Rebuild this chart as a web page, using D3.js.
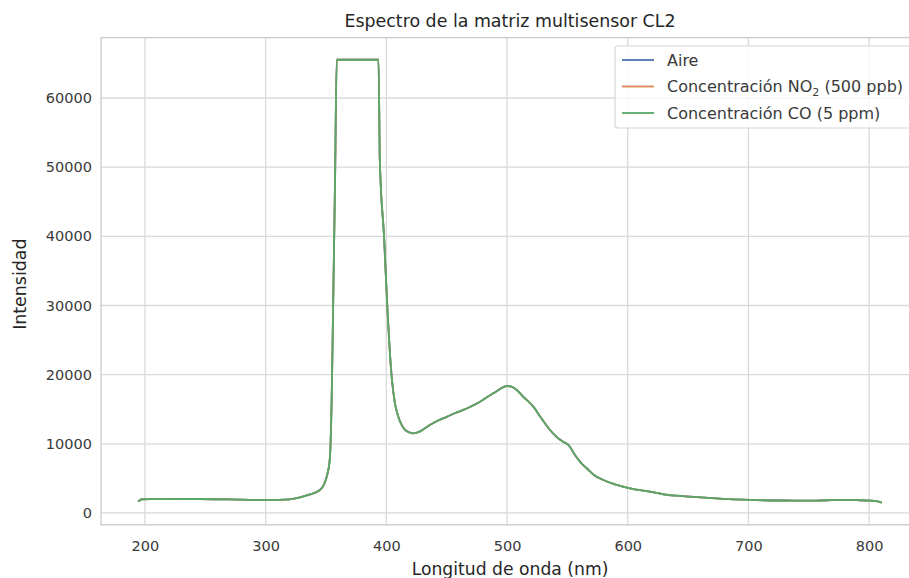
<!DOCTYPE html>
<html>
<head>
<meta charset="utf-8">
<script src="https://cdn.jsdelivr.net/npm/d3@7"></script>
<style>
  html, body { margin: 0; padding: 0; background: #fff; }
  svg { display: block; font-family: "DejaVu Sans", sans-serif; }
</style>
</head>
<body>
<svg id="chart" width="909" height="578"></svg>
<script>
// Wavelength samples (nm)
const wavelength = [194.4, 197.3, 205, 220, 245.6, 270, 300.8, 320, 328.4, 336, 345, 348, 350.6, 352, 353.3, 354.7, 356, 357.5, 358.9,
  370, 385, 393.5, 394.6, 398.1, 400.8, 404.4, 407, 409.9, 412.5, 415.5, 419, 422.3, 428, 435, 442, 450, 457, 463.8, 470, 477.6,
  483, 488.6, 494, 498.3, 500.5, 504, 508, 514, 521.8, 528, 535.6, 541, 546, 550.8, 557, 562, 566, 572, 579.8, 590, 601.9,
  610, 618.5, 629.5, 640, 651.7, 670, 701.4, 730, 756.6, 773.2, 790, 800.8, 806, 810.5];

// Intensity for each atmosphere
const aire = [1630, 1980, 2010, 2010, 2020, 1960, 1880, 1960, 2270, 2650, 3325, 4000, 5250, 6300, 8140, 16340, 30790, 48000, 65535,
  65535, 65535, 65535, 51000, 39950, 29830, 19700, 16000, 13920, 12800, 12000, 11650, 11520, 11800, 12600, 13300, 13900, 14450, 14900, 15400, 16090,
  16700, 17300, 17900, 18300, 18360, 18250, 17780, 16700, 15370, 13800, 12000, 11000, 10350, 9830, 8200, 7100, 6460, 5500, 4770, 4100, 3570,
  3300, 3080, 2700, 2500, 2360, 2150, 1880, 1800, 1780, 1900, 1850, 1780, 1700, 1490];

const no2 = [1630, 1980, 2010, 2010, 2020, 1960, 1880, 1960, 2270, 2650, 3325, 4000, 5250, 6300, 8140, 16340, 30790, 48000, 65535,
  65535, 65535, 65535, 51000, 39950, 29830, 19700, 16000, 13920, 12800, 12000, 11650, 11520, 11800, 12600, 13300, 13900, 14450, 14900, 15400, 16090,
  16700, 17300, 17900, 18300, 18360, 18250, 17780, 16700, 15370, 13800, 12000, 11000, 10350, 9830, 8200, 7100, 6460, 5500, 4770, 4100, 3570,
  3300, 3080, 2700, 2500, 2360, 2150, 1880, 1800, 1780, 1900, 1850, 1780, 1700, 1490];

const co = [1630, 1980, 2010, 2010, 2020, 1960, 1880, 1960, 2270, 2650, 3325, 4000, 5250, 6300, 8140, 16340, 30790, 48000, 65535,
  65535, 65535, 65535, 51000, 39950, 29830, 19700, 16000, 13920, 12800, 12000, 11650, 11520, 11800, 12600, 13300, 13900, 14450, 14900, 15400, 16090,
  16700, 17300, 17900, 18300, 18360, 18250, 17780, 16700, 15370, 13800, 12000, 11000, 10350, 9830, 8200, 7100, 6460, 5500, 4770, 4100, 3570,
  3300, 3080, 2700, 2500, 2360, 2150, 1880, 1800, 1780, 1900, 1850, 1780, 1700, 1490];

const xTicks = [200, 300, 400, 500, 600, 700, 800];
const yTicks = [0, 10000, 20000, 30000, 40000, 50000, 60000];

const seriesNames = ["Aire", "Concentración NO2 (500 ppb)", "Concentración CO (5 ppm)"];
const seriesColors = ["#4c72b0", "#dd8452", "#55a868"];

const svg = d3.select("#chart");
const margin = { left: 101, top: 37.6, right: 919, bottom: 524.8 };

// Axis limits padded 5% beyond the data, as matplotlib does
const xMin = d3.min(wavelength), xMax = d3.max(wavelength);
const yMin = d3.min(co), yMax = d3.max(co);
const xPad = (xMax - xMin) * 0.05, yPad = (yMax - yMin) * 0.05;

const x = d3.scaleLinear().domain([xMin - xPad, xMax + xPad]).range([margin.left, margin.right]);
const y = d3.scaleLinear().domain([yMin - yPad, yMax + yPad]).range([margin.bottom, margin.top]);

const W = margin.right - margin.left, H = margin.bottom - margin.top;

// Grid
const grid = svg.append("g");
grid.selectAll(".vg").data(xTicks).join("line")
  .attr("x1", d => x(d)).attr("x2", d => x(d))
  .attr("y1", margin.top).attr("y2", margin.bottom)
  .attr("stroke", "#dadada").attr("stroke-width", 1.3);
grid.selectAll(".hg").data(yTicks).join("line")
  .attr("x1", margin.left).attr("x2", margin.right)
  .attr("y1", d => y(d)).attr("y2", d => y(d))
  .attr("stroke", "#dadada").attr("stroke-width", 1.3);

// Tick labels via D3 axes, with tick lines hidden
const xAxis = svg.append("g").attr("transform", `translate(0,${margin.bottom})`)
  .call(d3.axisBottom(x).tickValues(xTicks).tickSize(0).tickPadding(16).tickFormat(d3.format("d")));
const yAxis = svg.append("g").attr("transform", `translate(${margin.left},0)`)
  .call(d3.axisLeft(y).tickValues(yTicks).tickSize(0).tickPadding(9).tickFormat(d3.format("d")));
[xAxis, yAxis].forEach(a => {
  a.select(".domain").remove();
  a.selectAll("text").attr("fill", "#3a3a3a").style("font-size", "14.5px").style("font-family", "DejaVu Sans, sans-serif");
});

// Lines
const line = d3.line().x((d, i) => x(wavelength[i])).y(d => y(d)).curve(d3.curveMonotoneX);
const plot = svg.append("g");
[aire, no2, co].forEach((s, i) => {
  plot.append("path").datum(s).attr("d", line)
    .attr("fill", "none").attr("stroke", seriesColors[i]).attr("stroke-width", 1.8)
    .attr("stroke-linejoin", "round");
});

// Frame
svg.append("rect").attr("x", margin.left).attr("y", margin.top).attr("width", W).attr("height", H)
  .attr("fill", "none").attr("stroke", "#cccccc").attr("stroke-width", 1.4);

// Title and axis labels
svg.append("text").attr("x", (margin.left + margin.right) / 2).attr("y", 27)
  .attr("text-anchor", "middle").attr("fill", "#262626").style("font-size", "17.4px")
  .text("Espectro de la matriz multisensor CL2");
svg.append("text").attr("x", (margin.left + margin.right) / 2).attr("y", 575)
  .attr("text-anchor", "middle").attr("fill", "#262626").style("font-size", "17.2px")
  .text("Longitud de onda (nm)");
svg.append("text").attr("transform", `translate(26,${(margin.top + margin.bottom) / 2 + 3}) rotate(-90)`)
  .attr("text-anchor", "middle").attr("fill", "#262626").style("font-size", "17.4px")
  .text("Intensidad");

// Legend
const lg = svg.append("g");
lg.append("rect").attr("x", 615).attr("y", 46).attr("width", 298).attr("height", 82).attr("rx", 3)
  .attr("fill", "#ffffff").attr("fill-opacity", 0.8).attr("stroke", "#d6d6d6").attr("stroke-width", 1.2);
seriesNames.forEach((name, i) => {
  const yy = 60 + i * 26.5;
  lg.append("line").attr("x1", 622).attr("x2", 654).attr("y1", yy).attr("y2", yy)
    .attr("stroke", seriesColors[i]).attr("stroke-width", 1.8);
  const t = lg.append("text").attr("x", 667).attr("y", yy + 5.5).attr("fill", "#3a3a3a").style("font-size", "16px");
  if (name.includes("NO2")) {
    t.append("tspan").text("Concentración NO");
    t.append("tspan").attr("dy", 4).style("font-size", "11px").text("2");
    t.append("tspan").attr("dy", -4).text(" (500 ppb)");
  } else {
    t.text(name);
  }
});
</script>
</body>
</html>
